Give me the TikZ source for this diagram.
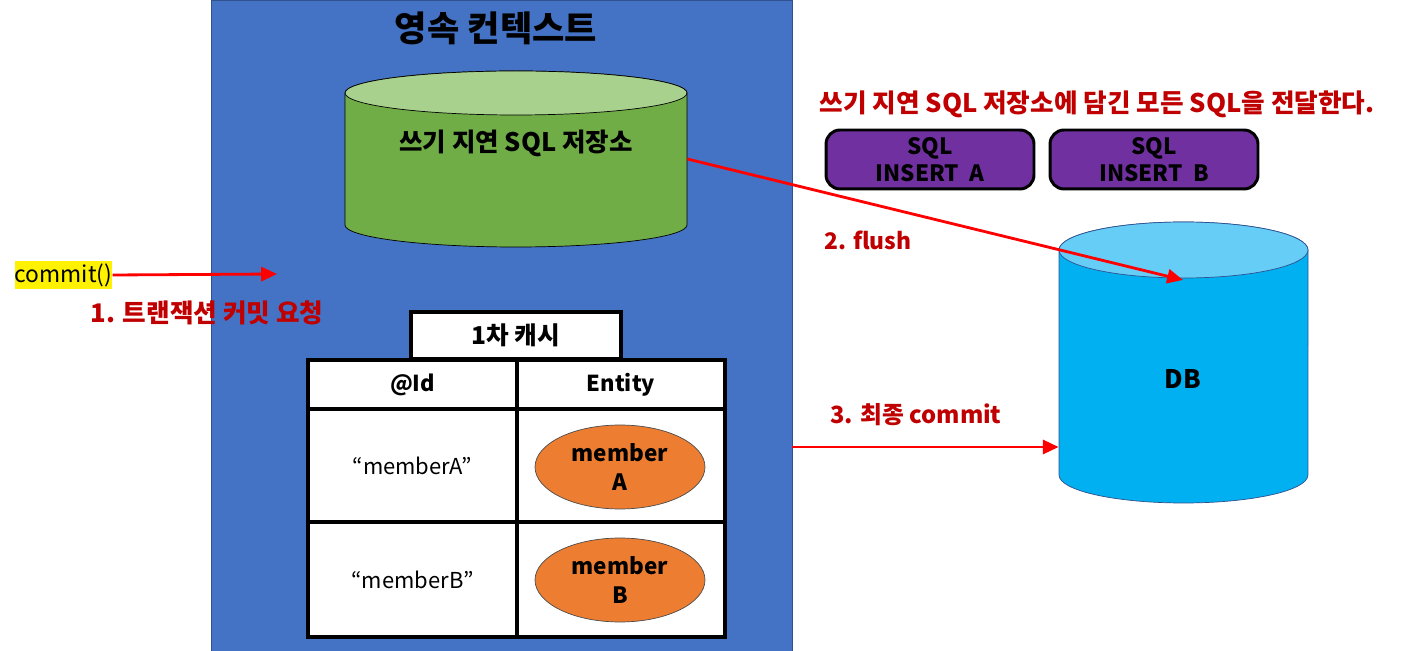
\documentclass[tikz,border=0pt]{standalone}
\usepackage{fontspec}
\setmainfont{Noto Sans CJK KR}
\usepackage{tikz}
\usetikzlibrary{positioning,shapes.geometric,arrows.meta}
\usepackage{xcolor}

\definecolor{ctxblue}{HTML}{4472C4}
\definecolor{ctxline}{HTML}{2F528F}
\definecolor{storegreen}{HTML}{70AD47}
\definecolor{storetop}{HTML}{A9D18E}
\definecolor{dbblue}{HTML}{00B0F0}
\definecolor{dbtop}{HTML}{66CDF6}
\definecolor{sqlpurple}{HTML}{7030A0}
\definecolor{labelred}{HTML}{C00000}
\definecolor{memberorange}{HTML}{ED7D31}

\begin{document}
\begin{tikzpicture}[
    x=0.02cm, y=-0.02cm,
    ctxbox/.style={rectangle, draw=ctxline, fill=ctxblue, inner sep=0pt},
    area/.style={rectangle, inner sep=0pt},
    sqlbox/.style={rectangle, rounded corners=8pt, draw=black, line width=1.7pt, fill=sqlpurple, minimum width=4.16cm, minimum height=1.18cm, align=center, font=\bfseries\fontsize{12.8}{15.5}\selectfont, inner sep=0pt},
    cell/.style={rectangle, draw=black, line width=1.8pt, fill=white, inner sep=0pt, align=center},
    member/.style={ellipse, draw=black!70, fill=memberorange, minimum width=3.4cm, minimum height=1.68cm, inner sep=0pt, align=center, font=\bfseries\fontsize{12.8}{16}\selectfont},
    boldtext/.style={font=\bfseries\fontsize{14.5}{16}\selectfont},
    headtext/.style={font=\bfseries\fontsize{12.5}{14}\selectfont},
    plaintext/.style={font=\fontsize{12.5}{14}\selectfont},
    redlabel/.style={text=labelred, font=\bfseries\fontsize{14.6}{16}\selectfont},
    redarrow/.style={draw=red, line width=1.6pt, -{Triangle[length=9pt, width=8pt]}}
]
\useasboundingbox[fill=white] (0,0) rectangle (1402,651);

% Nodes
\node[ctxbox, minimum width=11.62cm, minimum height=13.02cm, anchor=north west] (ctx) at (211,0) {};
\node[font=\bfseries\fontsize{20}{22}\selectfont] (ctxtitle) at (496,28) {영속 컨텍스트};

% write-behind store (cylinder)
\node[area, minimum width=6.84cm, minimum height=3.52cm] (store) at (516,159) {};
\draw[thin, fill=storegreen] (345,93) -- (345,225)
    arc[start angle=180, end angle=360, x radius=3.42cm, y radius=0.44cm]
    -- (687,93) arc[start angle=0, end angle=180, x radius=3.42cm, y radius=0.44cm] -- cycle;
\draw[thin, fill=storetop] (516,93) ellipse[x radius=3.42cm, y radius=0.44cm];
\node[boldtext] (storelabel) at (516,143) {쓰기 지연 SQL 저장소};

% DB (cylinder)
\node[area, minimum width=4.98cm, minimum height=5.62cm] (db) at (1183.5,362.5) {};
\draw[draw=ctxline, fill=dbblue] (1059,250) -- (1059,475)
    arc[start angle=180, end angle=360, x radius=2.49cm, y radius=0.56cm]
    -- (1308,250) arc[start angle=0, end angle=180, x radius=2.49cm, y radius=0.56cm] -- cycle;
\draw[draw=ctxline, fill=dbtop] (1183.5,250) ellipse[x radius=2.49cm, y radius=0.56cm];
\node[boldtext] (dblabel) at (1183,379) {DB};

\node[redlabel] (sendlabel) at (1097,104) {쓰기 지연 SQL 저장소에 담긴 모든 SQL을 전달한다.};
\node[sqlbox] (sqla) at (930,159.5) {SQL\\INSERT~ A};
\node[sqlbox] (sqlb) at (1154,159.5) {SQL\\INSERT~ B};

\node[fill=yellow, minimum width=1.94cm, minimum height=0.56cm, inner sep=0pt, font=\fontsize{13}{14}\selectfont] (commit) at (63.5,275) {commit()};
\coordinate (ctxin) at (277,274);
\node[redlabel] (step1) at (207,313) {1. 트랜잭션 커밋 요청};
\node[redlabel, font=\bfseries\fontsize{13}{15}\selectfont] (step2) at (868,240) {2. flush};
\node[redlabel, font=\bfseries\fontsize{13.5}{15}\selectfont] (step3) at (916,415) {3. 최종 commit};

% 1st level cache
\node[cell, minimum width=4.2cm, minimum height=0.94cm, font=\bfseries\fontsize{14}{16}\selectfont] (cachetitle) at (516,335.5) {1차 캐시};
\node[cell, minimum width=4.18cm, minimum height=0.98cm, headtext] (idhead) at (412.5,384.5) {@Id};
\node[cell, minimum width=4.16cm, minimum height=0.98cm, headtext] (enthead) at (621,384.5) {Entity};
\node[cell, minimum width=4.18cm, minimum height=2.26cm, plaintext] (ida) at (412.5,465.5) {“memberA”};
\node[cell, minimum width=4.16cm, minimum height=2.26cm] (enta) at (621,465.5) {};
\node[cell, minimum width=4.18cm, minimum height=2.3cm, plaintext] (idb) at (412.5,579.5) {“memberB”};
\node[cell, minimum width=4.16cm, minimum height=2.3cm] (entb) at (621,579.5) {};
\node[member] (membera) at (620,467) {member\\A};
\node[member] (memberb) at (620,580) {member\\B};

\coordinate (dbflush) at (1183,280);
\coordinate (ctxout) at (792,447);

% Edges
\draw[redarrow] (commit.east) -- (ctxin);
\draw[redarrow] (store.east) -- (dbflush);
\draw[redarrow] (ctxout) -- (ctxout -| db.west);

\end{tikzpicture}
\end{document}
